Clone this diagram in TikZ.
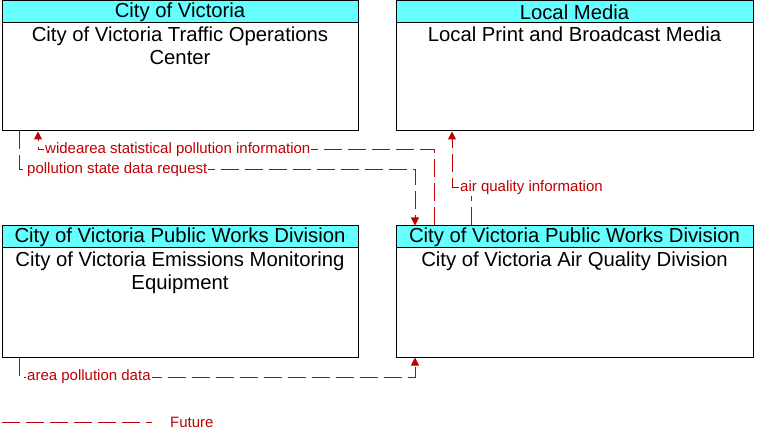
\documentclass[tikz,border=0pt]{standalone}
\usepackage{fontspec}
\setmainfont{Liberation Sans}
\usetikzlibrary{arrows.meta}
\definecolor{hdr}{RGB}{102,255,255}
\definecolor{flowred}{RGB}{192,0,0}
\begin{document}
\begin{tikzpicture}[x=1pt,y=-1pt,
 box/.style={draw,line width=1pt,minimum height=130pt,inner sep=0pt},
 hdrbox/.style={draw,line width=1pt,fill=hdr,minimum height=22pt,inner sep=0pt,font=\fontsize{20.3}{21}\selectfont},
 body/.style={align=center,font=\fontsize{20.3}{23}\selectfont,inner sep=0pt},
 flow/.style={draw=flowred,line width=1pt,dash pattern=on 18pt off 6pt},
 arr/.style={-{Triangle[length=8pt,width=8pt]}},
 lbl/.style={text=flowred,fill=white,inner sep=1pt,font=\fontsize{15}{16}\selectfont}]
\useasboundingbox (0,0) rectangle (764,441);
% boxes
\node[box,minimum width=356pt] (A) at (180,66) {};
\node[hdrbox,minimum width=356pt,anchor=north] (Ah) at (A.north) {City of Victoria};
\node[body,anchor=north] (At) at (180,27) {City of Victoria Traffic Operations\\Center};
\node[box,minimum width=357pt] (B) at (574.5,66) {};
\node[hdrbox,minimum width=357pt,anchor=north] (Bh) at (B.north) {Local Media};
\node[body,anchor=north] (Bt) at (574.5,27) {Local Print and Broadcast Media};
\node[box,minimum width=356pt,minimum height=131pt] (C) at (180,291.5) {};
\node[hdrbox,minimum width=356pt,anchor=north] (Ch) at (C.north) {City of Victoria Public Works Division};
\node[body,anchor=north] (Ct) at (180,252) {City of Victoria Emissions Monitoring\\Equipment};
\node[box,minimum width=357pt,minimum height=131pt] (D) at (574.5,291.5) {};
\node[hdrbox,minimum width=357pt,anchor=north] (Dh) at (D.north) {City of Victoria Public Works Division};
\node[body,anchor=north] (Dt) at (574.5,252) {City of Victoria Air Quality Division};
% helper coordinates
\coordinate (c434) at (434,0);
\coordinate (c415) at (415,0);
\coordinate (c471) at (471,0);
\coordinate (c452) at (452,188);
\coordinate (c38) at (38,150);
\coordinate (c19a) at (19,170);
\coordinate (c19b) at (19,377);
% connectors
\draw[flow,arr] (D.north -| c434) |- (c38) -- (A.south -| c38);
\draw[flow,arr] (A.south -| c19a) |- (c415 |- c19a) -- (D.north -| c415);
\draw[flow,arr] (D.north -| c471) |- (c452) -- (B.south -| c452);
\draw[flow,arr] (C.south -| c19b) |- (c415 |- c19b) -- (D.south -| c415);
% labels
\node[lbl,anchor=west] (l1) at (44,150) {widearea statistical pollution information};
\node[lbl,anchor=west] (l2) at (26,170) {pollution state data request};
\node[lbl,anchor=west] (l3) at (459,188) {air quality information};
\node[lbl,anchor=west] (l4) at (26,377) {area pollution data};
% legend
\coordinate (g1) at (2,422);
\coordinate (g2) at (152,422);
\draw[flow] (g1) -- (g2);
\node[text=flowred,inner sep=0pt,anchor=west,font=\fontsize{15}{16}\selectfont] (fut) at (170,422) {Future};
\end{tikzpicture}
\end{document}
